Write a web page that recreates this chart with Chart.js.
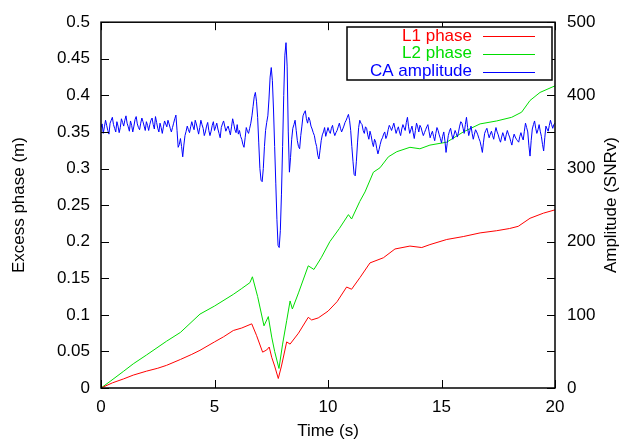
<!DOCTYPE html>
<html>
<head>
<meta charset="utf-8">
<script src="https://cdn.jsdelivr.net/npm/chart.js@4/dist/chart.umd.min.js"></script>
<style>
  body { margin: 0; background: #fff; }
  canvas { display: block; }
</style>
</head>
<body>
<canvas id="grafico" width="624" height="442"></canvas>
<script>
// L1 phase (m)
const l1Time = [0, 0.5, 1.0, 1.42, 2.0, 2.5, 2.89, 3.5, 4.0, 4.36,
    5.0, 5.4, 5.83, 6.2, 6.64, 6.85, 7.12, 7.3, 7.41, 7.52,
    7.65, 7.81, 7.95, 8.18, 8.33, 8.7, 9.13, 9.28, 9.57, 10.0,
    10.4, 10.82, 11.04, 11.41, 11.85, 12.44, 12.95, 13.61, 14.13, 14.49,
    15.23, 15.96, 16.7, 17.43, 18.0, 18.38, 18.9, 19.49, 20];
const l1Phase = [0, 0.007, 0.0125, 0.0176, 0.023, 0.027, 0.031, 0.039, 0.046, 0.0515,
    0.063, 0.070, 0.0786, 0.082, 0.0877, 0.072, 0.049, 0.052, 0.056, 0.042,
    0.030, 0.013, 0.030, 0.063, 0.060, 0.075, 0.0966, 0.093, 0.0958, 0.105,
    0.118, 0.138, 0.135, 0.151, 0.171, 0.178, 0.19, 0.194, 0.192, 0.196,
    0.203, 0.207, 0.212, 0.215, 0.218, 0.221, 0.232, 0.239, 0.2435];

// L2 phase (m)
const l2Time = [0, 0.4, 1.0, 1.42, 2.0, 2.89, 3.5, 4.36, 5.0, 5.83,
    6.2, 6.56, 6.67, 6.9, 7.18, 7.37, 7.52, 7.65, 7.84, 8.0,
    8.18, 8.33, 8.43, 8.7, 9.13, 9.38, 9.7, 10.08, 10.5, 10.9,
    11.04, 11.4, 11.63, 12.0, 12.29, 12.66, 13.03, 13.61, 14.05, 14.49,
    15.23, 15.96, 16.7, 17.43, 18.09, 18.53, 18.9, 19.34, 20];
const l2Phase = [0, 0.009, 0.023, 0.033, 0.045, 0.064, 0.076, 0.101, 0.112, 0.128,
    0.136, 0.144, 0.152, 0.125, 0.085, 0.0976, 0.0696, 0.05, 0.0267, 0.06,
    0.092, 0.119, 0.108, 0.13, 0.167, 0.162, 0.178, 0.2, 0.218, 0.237,
    0.231, 0.255, 0.268, 0.295, 0.301, 0.316, 0.323, 0.329, 0.327, 0.332,
    0.336, 0.35, 0.361, 0.365, 0.37, 0.377, 0.393, 0.404, 0.413];

// CA amplitude (SNRv), one value every 0.05 s from 0 to 20 s (one row per second)
const ampStep = 0.05;
const caAmp = [
    356, 361, 348, 357, 366, 359, 352, 347, 362, 366, 370, 360, 355, 350, 364, 358, 349, 356, 368, 363,
    358, 366, 372, 362, 357, 351, 365, 359, 350, 358, 367, 371, 361, 356, 353, 362, 369, 364, 358, 352,
    364, 359, 352, 360, 366, 369, 360, 354, 371, 363, 355, 350, 362, 356, 348, 357, 365, 361, 357, 366,
    361, 355, 350, 356, 362, 368, 373, 352, 329, 333, 341, 330, 316, 332, 345, 351, 358, 353, 349, 357,
    364, 358, 353, 366, 361, 354, 347, 356, 366, 360, 355, 345, 350, 358, 363, 352, 345, 351, 359, 364,
    352, 357, 362, 354, 348, 342, 356, 361, 365, 358, 351, 355, 358, 352, 346, 357, 368, 361, 353, 349,
    360, 347, 352, 344, 340, 333, 329, 342, 356, 351, 348, 355, 362, 372, 385, 398, 404, 392, 370, 335,
    300, 284, 282, 300, 330, 352, 363, 372, 395, 425, 438, 420, 380, 330, 280, 230, 195, 192, 215, 265,
    330, 400, 455, 472, 440, 350, 295, 315, 340, 355, 360, 366, 352, 338, 330, 327, 345, 358, 372, 376,
    379, 368, 362, 370, 366, 358, 354, 349, 345, 336, 330, 318, 313, 325, 338, 346, 350, 356, 344, 350,
    356, 351, 348, 355, 359, 350, 345, 349, 352, 357, 362, 355, 350, 354, 358, 363, 366, 370, 374, 366,
    352, 330, 310, 292, 290, 310, 335, 356, 366, 362, 360, 352, 348, 357, 355, 346, 340, 351, 345, 336,
    330, 340, 336, 327, 320, 326, 333, 339, 342, 347, 350, 341, 345, 353, 359, 356, 352, 357, 362, 355,
    348, 353, 357, 350, 345, 354, 360, 356, 352, 363, 370, 357, 348, 353, 358, 349, 341, 352, 362, 357,
    350, 359, 356, 350, 345, 349, 353, 357, 360, 351, 342, 347, 351, 344, 338, 348, 356, 352, 346, 341,
    335, 344, 350, 338, 322, 334, 345, 351, 355, 347, 340, 346, 352, 348, 343, 350, 358, 364, 362, 355,
    348, 360, 370, 356, 345, 352, 358, 348, 340, 347, 353, 350, 346, 341, 337, 330, 322, 336, 348, 352,
    355, 348, 342, 347, 351, 345, 340, 349, 356, 350, 346, 340, 336, 343, 349, 344, 338, 346, 352, 347,
    343, 337, 332, 341, 347, 343, 340, 338, 336, 344, 349, 343, 339, 351, 362, 356, 350, 331, 317, 338,
    354, 360, 365, 355, 348, 353, 360, 351, 344, 333, 324, 342, 358, 354, 351, 359, 366, 360, 355, 360,
    362
];

const FONT = 'Liberation Sans';
const FSIZE = 17;

function toPoints(xs, ys) {
    return ys.map((v, i) => ({ x: xs[i], y: v }));
}

// cornice, tacche interne, legenda e titolo destro
const gnuplotFrame = {
    id: 'gnuplotFrame',
    afterDatasetsDraw(chart) {
        const { ctx, chartArea: a, scales } = chart;
        const tl = 8;
        ctx.save();
        ctx.strokeStyle = '#000';
        ctx.lineWidth = 1;
        ctx.beginPath();
        scales.x.ticks.forEach((t) => {
            const px = Math.round(scales.x.getPixelForValue(t.value)) + 0.5;
            ctx.moveTo(px, a.bottom); ctx.lineTo(px, a.bottom - tl);
            ctx.moveTo(px, a.top); ctx.lineTo(px, a.top + tl);
        });
        scales.y.ticks.forEach((t) => {
            const py = Math.round(scales.y.getPixelForValue(t.value)) + 0.5;
            ctx.moveTo(a.left, py); ctx.lineTo(a.left + tl, py);
        });
        scales.y2.ticks.forEach((t) => {
            const py = Math.round(scales.y2.getPixelForValue(t.value)) + 0.5;
            ctx.moveTo(a.right, py); ctx.lineTo(a.right - tl, py);
        });
        ctx.stroke();
        ctx.lineWidth = 1.5;
        ctx.strokeRect(a.left, a.top, a.right - a.left, a.bottom - a.top);

        // legenda
        const bx = 347, by = 27, bw = 205, bh = 53;
        ctx.fillStyle = '#fff';
        ctx.fillRect(bx, by, bw, bh);
        ctx.strokeRect(bx, by, bw, bh);
        ctx.font = FSIZE + 'px "' + FONT + '"';
        ctx.textAlign = 'right';
        ctx.textBaseline = 'middle';
        chart.data.datasets.forEach((ds, i) => {
            const y = by + 9 + i * 17.8;
            ctx.fillStyle = ds.borderColor;
            ctx.fillText(ds.label, 472, y);
            ctx.strokeStyle = ds.borderColor;
            ctx.lineWidth = 1;
            ctx.beginPath();
            ctx.moveTo(483, Math.round(y) + 0.5);
            ctx.lineTo(535, Math.round(y) + 0.5);
            ctx.stroke();
        });

        // titolo asse destro (letto dal basso verso l'alto)
        ctx.fillStyle = '#000';
        ctx.textAlign = 'center';
        ctx.translate(611, (a.top + a.bottom) / 2);
        ctx.rotate(-Math.PI / 2);
        ctx.fillText('Amplitude (SNRv)', 0, 0);
        ctx.restore();
    }
};

const tickFont = { family: FONT, size: FSIZE };

const ctx = document.getElementById('grafico').getContext('2d');
new Chart(ctx, {
    type: 'line',
    data: {
        datasets: [{
            label: 'L1 phase',
            data: toPoints(l1Time, l1Phase),
            yAxisID: 'y',
            borderColor: '#ff0000',
            borderWidth: 1,
            order: 1,
        }, {
            label: 'L2 phase',
            data: toPoints(l2Time, l2Phase),
            yAxisID: 'y',
            borderColor: '#00dd00',
            borderWidth: 1,
            order: 2,
        }, {
            label: 'CA amplitude',
            data: caAmp.map((v, i) => ({ x: i * ampStep, y: v })),
            yAxisID: 'y2',
            borderColor: '#0000ff',
            borderWidth: 1,
            order: 0,
        }],
    },
    options: {
        responsive: false,
        animation: false,
        layout: { padding: { top: 19, left: 0, right: 0, bottom: 0 } },
        elements: { point: { radius: 0 }, line: { tension: 0 } },
        plugins: { legend: { display: false }, tooltip: { enabled: false } },
        scales: {
            x: {
                type: 'linear',
                min: 0,
                max: 20,
                ticks: { stepSize: 5, padding: 9, color: '#000', font: tickFont, maxRotation: 0 },
                grid: { display: false, drawTicks: false },
                border: { display: false },
                title: { display: true, text: 'Time (s)', color: '#000', font: tickFont, padding: { top: 0, bottom: 0 } },
                afterFit: (s) => { s.height = 54; },
            },
            y: {
                position: 'left',
                min: 0,
                max: 0.5,
                ticks: { stepSize: 0.05, padding: 11, color: '#000', font: tickFont,
                    callback: (v) => String(+v.toFixed(2)) },
                grid: { display: false, drawTicks: false },
                border: { display: false },
                title: { display: true, text: 'Excess phase (m)', color: '#000', font: tickFont, padding: { top: 9, bottom: 0 } },
                afterFit: (s) => { s.width = 101; },
            },
            y2: {
                position: 'right',
                min: 0,
                max: 500,
                ticks: { stepSize: 50, padding: 12, color: '#000', font: tickFont,
                    callback: (v) => (v % 100 === 0 ? String(v) : '') },
                grid: { display: false, drawTicks: false },
                border: { display: false },
                afterFit: (s) => { s.width = 69; },
            },
        },
    },
    plugins: [gnuplotFrame],
});
</script>
</body>
</html>
